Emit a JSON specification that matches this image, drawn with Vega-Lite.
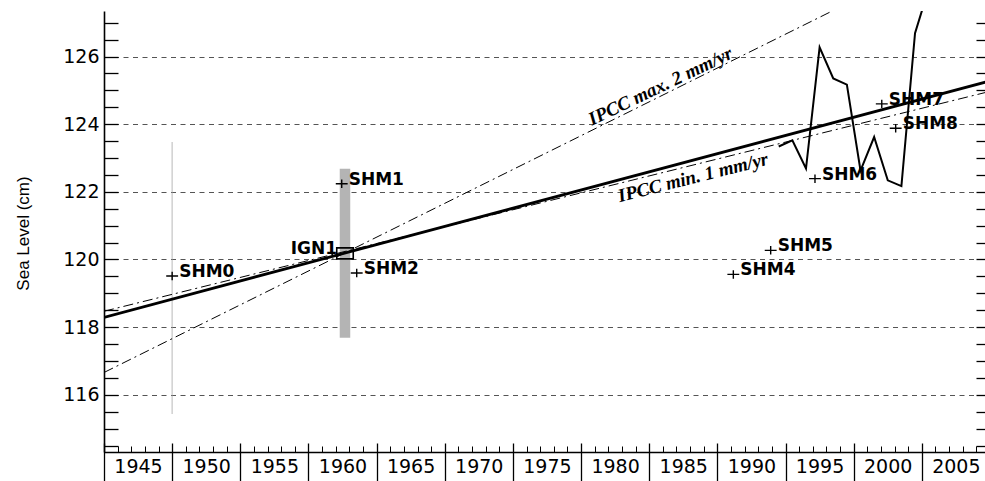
{
  "$schema": "https://vega.github.io/schema/vega-lite/v6.json",
  "width": 886,
  "height": 441,
  "autosize": {"type": "none"},
  "padding": {"left": 104, "top": 11, "right": 0, "bottom": 29},
  "background": "white",
  "config": {
    "view": {"stroke": null},
    "axis": {"labelColor": "black", "tickColor": "black", "domainColor": "black", "titleColor": "black", "labelOverlap": false, "labelFlush": false, "labelBound": false}
  },
  "datasets": {
    "lines": [
      {"series": "trend", "year": 1945, "value": 118.29},
      {"series": "trend", "year": 2010, "value": 125.28},
      {"series": "max", "year": 1945, "value": 116.66},
      {"series": "max", "year": 2010, "value": 129.66},
      {"series": "min", "year": 1945, "value": 118.47},
      {"series": "min", "year": 2010, "value": 124.97},
      {"series": "tide", "year": 1994.5, "value": 123.34},
      {"series": "tide", "year": 1995.5, "value": 123.52},
      {"series": "tide", "year": 1996.5, "value": 122.69},
      {"series": "tide", "year": 1997.5, "value": 126.27},
      {"series": "tide", "year": 1998.5, "value": 125.35},
      {"series": "tide", "year": 1999.5, "value": 125.17},
      {"series": "tide", "year": 2000.5, "value": 122.63},
      {"series": "tide", "year": 2001.5, "value": 123.62},
      {"series": "tide", "year": 2002.5, "value": 122.34},
      {"series": "tide", "year": 2003.5, "value": 122.17},
      {"series": "tide", "year": 2004.5, "value": 126.69},
      {"series": "tide", "year": 2005.5, "value": 128.0}
    ],
    "stations": [
      {"name": "SHM0", "year": 1950.0, "value": 119.51, "lo": 115.45, "hi": 123.47, "kind": "cross"},
      {"name": "SHM1", "year": 1962.44, "value": 122.24, "kind": "cross"},
      {"name": "IGN1", "year": 1962.68, "value": 120.18, "lo": 117.69, "hi": 122.68, "kind": "square"},
      {"name": "SHM2", "year": 1963.54, "value": 119.6, "kind": "cross"},
      {"name": "SHM4", "year": 1991.17, "value": 119.56, "kind": "cross"},
      {"name": "SHM5", "year": 1993.91, "value": 120.27, "kind": "cross"},
      {"name": "SHM6", "year": 1997.16, "value": 122.39, "kind": "cross"},
      {"name": "SHM7", "year": 2002.06, "value": 124.6, "kind": "cross"},
      {"name": "SHM8", "year": 2003.08, "value": 123.88, "kind": "cross"}
    ],
    "notes": [
      {"note": "IPCC max. 2 mm/yr", "kind": "max", "year": 1986.1, "value": 124.88},
      {"note": "IPCC min. 1 mm/yr", "kind": "min", "year": 1988.0, "value": 122.77}
    ]
  },
  "resolve": {"axis": {"x": "independent", "y": "independent"}},
  "layer": [
    {
      "data": {"name": "stations"},
      "transform": [{"filter": "datum.name === 'SHM0'"}],
      "mark": {"type": "rule", "color": "#a0a0a0", "strokeWidth": 1.5, "strokeDash": [1, 1]},
      "encoding": {
        "x": {"field": "year", "type": "quantitative", "scale": {"domain": [1945, 2010], "nice": false, "zero": false}, "axis": null},
        "y": {"field": "lo", "type": "quantitative", "scale": {"domain": [114.31, 127.345], "nice": false, "zero": false},
          "axis": {"orient": "left", "values": [116, 118, 120, 122, 124, 126], "grid": true, "gridDash": [5, 4.5], "gridColor": "#555", "gridWidth": 1, "ticks": false, "domain": false,
            "format": "d", "labels": true, "labelFont": "DejaVu Sans", "labelFontSize": 19, "labelPadding": 5,
            "title": "Sea Level (cm)", "titleFont": "Liberation Sans", "titleFontSize": 17, "titleFontWeight": "normal",
            "titleX": -76, "titleY": 222, "titleBaseline": "alphabetic"}},
        "y2": {"field": "hi"}
      }
    },
    {
      "data": {"name": "stations"},
      "transform": [{"filter": "datum.name === 'IGN1'"}],
      "mark": {"type": "rule", "color": "#b4b4b4", "strokeWidth": 10.5, "strokeCap": "butt"},
      "encoding": {
        "x": {"field": "year", "type": "quantitative", "axis": null},
        "y": {"field": "lo", "type": "quantitative", "axis": null},
        "y2": {"field": "hi"}
      }
    },
    {
      "data": {"name": "lines"},
      "transform": [{"filter": "datum.series === 'max'"}],
      "mark": {"type": "line", "color": "black", "strokeWidth": 1, "strokeDash": [10, 4, 2, 4], "clip": true},
      "encoding": {
        "x": {"field": "year", "type": "quantitative",
          "axis": {"orient": "bottom", "values": [1945,1946,1947,1948,1949,1950,1951,1952,1953,1954,1955,1956,1957,1958,1959,1960,1961,1962,1963,1964,1965,1966,1967,1968,1969,1970,1971,1972,1973,1974,1975,1976,1977,1978,1979,1980,1981,1982,1983,1984,1985,1986,1987,1988,1989,1990,1991,1992,1993,1994,1995,1996,1997,1998,1999,2000,2001,2002,2003,2004,2005,2006,2007,2008,2009,2010],
            "tickSize": -6, "tickWidth": 1, "domain": true, "domainWidth": 1.5, "labels": false, "grid": false, "title": null, "zindex": 1}},
        "y": {"field": "value", "type": "quantitative",
          "axis": {"orient": "right", "values": [114.5,115,115.5,116,116.5,117,117.5,118,118.5,119,119.5,120,120.5,121,121.5,122,122.5,123,123.5,124,124.5,125,125.5,126,126.5,127],
            "tickSize": -14, "tickWidth": 1.3, "labels": false, "domain": true, "grid": false, "title": null, "zindex": 1}}
      }
    },
    {
      "data": {"name": "lines"},
      "transform": [{"filter": "datum.series === 'min'"}],
      "mark": {"type": "line", "color": "black", "strokeWidth": 1, "strokeDash": [10, 4, 2, 4], "clip": true},
      "encoding": {
        "x": {"field": "year", "type": "quantitative", "axis": null},
        "y": {"field": "value", "type": "quantitative", "axis": null}
      }
    },
    {
      "data": {"name": "lines"},
      "transform": [{"filter": "datum.series === 'trend'"}],
      "mark": {"type": "line", "color": "black", "strokeWidth": 2.8, "clip": true},
      "encoding": {
        "x": {"field": "year", "type": "quantitative",
          "axis": {"orient": "bottom", "values": [1945,1950,1955,1960,1965,1970,1975,1980,1985,1990,1995,2000,2005],
            "offset": -9, "tickSize": 38, "tickWidth": 1.3, "domain": false, "grid": false, "format": "d",
            "labelOffset": 34, "labelPadding": -24, "labelBaseline": "top", "labelFont": "DejaVu Sans", "labelFontSize": 19, "title": null, "zindex": 1}},
        "y": {"field": "value", "type": "quantitative",
          "axis": {"orient": "left", "values": [114.5,115,115.5,116,116.5,117,117.5,118,118.5,119,119.5,120,120.5,121,121.5,122,122.5,123,123.5,124,124.5,125,125.5,126,126.5,127],
            "tickSize": -14, "tickWidth": 1.3, "domain": true, "domainWidth": 1.6, "grid": false, "labels": false, "title": null, "zindex": 1}}
      }
    },
    {
      "data": {"name": "lines"},
      "transform": [{"filter": "datum.series === 'tide'"}],
      "mark": {"type": "line", "color": "black", "strokeWidth": 2, "clip": true},
      "encoding": {
        "x": {"field": "year", "type": "quantitative", "axis": null},
        "y": {"field": "value", "type": "quantitative", "axis": null}
      }
    },
    {
      "data": {"name": "stations"},
      "transform": [{"filter": "datum.kind === 'cross'"}],
      "mark": {"type": "point", "shape": "M-1.4,0H1.4M0,-1V1", "size": 72, "filled": false, "stroke": "black", "strokeWidth": 1.4, "opacity": 1},
      "encoding": {
        "x": {"field": "year", "type": "quantitative", "axis": null},
        "y": {"field": "value", "type": "quantitative", "axis": null}
      }
    },
    {
      "data": {"name": "stations"},
      "transform": [{"filter": "datum.kind === 'square'"}],
      "mark": {"type": "point", "shape": "M-1.5,-1H1.5V1H-1.5Z", "size": 121, "filled": false, "stroke": "black", "strokeWidth": 1.6, "opacity": 1},
      "encoding": {
        "x": {"field": "year", "type": "quantitative", "axis": null},
        "y": {"field": "value", "type": "quantitative", "axis": null}
      }
    },
    {
      "data": {"name": "stations"},
      "transform": [{"filter": "datum.kind === 'cross'"}],
      "mark": {"type": "text", "align": "left", "baseline": "middle", "dx": 7, "dy": -4, "font": "DejaVu Sans", "fontWeight": "bold", "fontSize": 17, "color": "black"},
      "encoding": {
        "x": {"field": "year", "type": "quantitative", "axis": null},
        "y": {"field": "value", "type": "quantitative", "axis": null},
        "text": {"field": "name"}
      }
    },
    {
      "data": {"name": "stations"},
      "transform": [{"filter": "datum.kind === 'square'"}],
      "mark": {"type": "text", "align": "right", "baseline": "middle", "dx": -8, "dy": -4, "font": "DejaVu Sans", "fontWeight": "bold", "fontSize": 17, "color": "black"},
      "encoding": {
        "x": {"field": "year", "type": "quantitative", "axis": null},
        "y": {"field": "value", "type": "quantitative", "axis": null},
        "text": {"field": "name"}
      }
    },
    {
      "data": {"name": "notes"},
      "transform": [{"filter": "datum.kind === 'max'"}],
      "mark": {"type": "text", "align": "center", "baseline": "alphabetic", "angle": -25.7, "dy": -3, "font": "Liberation Serif", "fontWeight": "bold", "fontStyle": "italic", "fontSize": 19, "color": "black"},
      "encoding": {
        "x": {"field": "year", "type": "quantitative", "axis": null},
        "y": {"field": "value", "type": "quantitative", "axis": null},
        "text": {"field": "note"}
      }
    },
    {
      "data": {"name": "notes"},
      "transform": [{"filter": "datum.kind === 'min'"}],
      "mark": {"type": "text", "align": "center", "baseline": "top", "angle": -14.2, "dy": 3, "font": "Liberation Serif", "fontWeight": "bold", "fontStyle": "italic", "fontSize": 19, "color": "black"},
      "encoding": {
        "x": {"field": "year", "type": "quantitative", "axis": null},
        "y": {"field": "value", "type": "quantitative", "axis": null},
        "text": {"field": "note"}
      }
    }
  ]
}
